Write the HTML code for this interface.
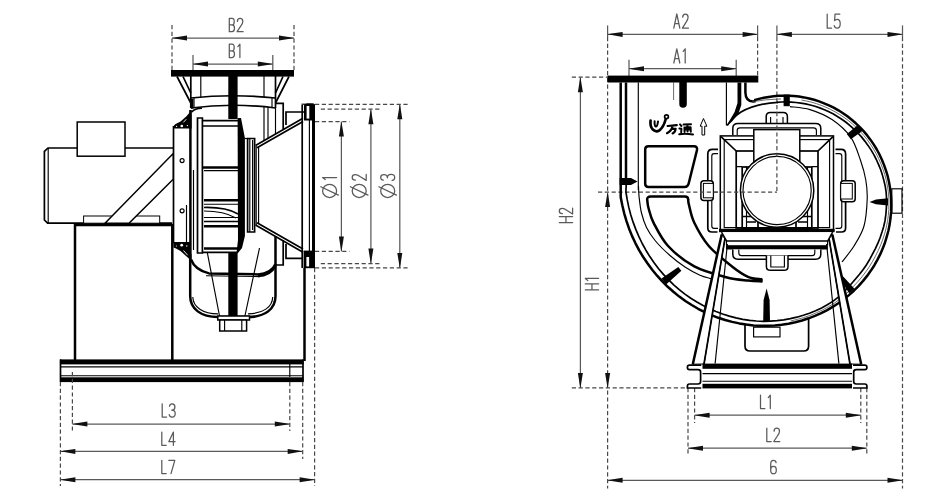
<!DOCTYPE html>
<html><head><meta charset="utf-8"><title>Fan dimension drawing</title>
<style>
html,body{margin:0;padding:0;background:#fff;}
body{width:935px;height:499px;overflow:hidden;font-family:"Liberation Sans",sans-serif;}
svg{display:block}
.t{fill:none;stroke:#000;stroke-width:1.15}
.m{fill:none;stroke:#000;stroke-width:1.7}
.k{fill:none;stroke:#000;stroke-width:2.5}
.kk{fill:none;stroke:#000;stroke-width:3}
.g{fill:none;stroke:#444;stroke-width:0.8}
.f{fill:#000;stroke:none}
.w{fill:#fff;stroke:#000;stroke-width:1.5}
.wt{fill:#fff;stroke:#000;stroke-width:1}
.wk{fill:#fff;stroke:#000;stroke-width:2.2}
.a{fill:#111;stroke:none}
.d{fill:none;stroke:#5a5a5a;stroke-width:1.25}
.ds{fill:none;stroke:#484848;stroke-width:1.2;stroke-dasharray:4.2 2.6}
.tx{fill:none;stroke:#5a5a5a;stroke-width:1.25;vector-effect:non-scaling-stroke;stroke-linecap:round;stroke-linejoin:round}
</style></head><body>
<svg width="935" height="499" viewBox="0 0 935 499">
<rect x="0" y="0" width="935" height="499" fill="#fff"/>
<line class="ds" x1="172.0" y1="25.0" x2="172.0" y2="70.0" />
<line class="ds" x1="294.0" y1="25.0" x2="294.0" y2="70.0" />
<line class="d" x1="172.0" y1="38.0" x2="294.0" y2="38.0" />
<polygon class="a" points="172.0,38.0 176.0,37.2 187.0,35.5 187.0,40.5 176.0,38.8"/>
<polygon class="a" points="294.0,38.0 290.0,37.2 279.0,35.5 279.0,40.5 290.0,38.8"/>
<g transform="translate(229.3,18.4)"><path class="tx" transform="translate(0.00,0) scale(1.000,0.950)" d="M0,0 L0,14 L2.8,14 Q5.2,14 5.2,10.4 Q5.2,6.9 2.8,6.9 L0,6.9 M2.8,6.9 Q4.9,6.9 4.9,3.4 Q4.9,0 2.8,0 L0,0"/><path class="tx" transform="translate(7.80,0) scale(1.000,0.950)" d="M0.3,3.2 Q0.3,0 3,0 Q5.7,0 5.7,3.2 Q5.7,5.2 3.6,8.2 L0,14 L6,14"/></g>
<line class="d" x1="193.0" y1="55.0" x2="193.0" y2="70.0" />
<line class="d" x1="272.8" y1="55.0" x2="272.8" y2="70.0" />
<line class="d" x1="193.0" y1="64.0" x2="272.8" y2="64.0" />
<polygon class="a" points="193.0,64.0 197.0,63.2 208.0,61.5 208.0,66.5 197.0,64.8"/>
<polygon class="a" points="272.8,64.0 268.8,63.2 257.8,61.5 257.8,66.5 268.8,64.8"/>
<g transform="translate(229.3,44.2)"><path class="tx" transform="translate(0.00,0) scale(1.000,0.950)" d="M0,0 L0,14 L2.8,14 Q5.2,14 5.2,10.4 Q5.2,6.9 2.8,6.9 L0,6.9 M2.8,6.9 Q4.9,6.9 4.9,3.4 Q4.9,0 2.8,0 L0,0"/><path class="tx" transform="translate(7.80,0) scale(1.000,0.950)" d="M0.8,2.6 L2.8,0 L2.8,14"/></g>
<rect class="f" x="171.0" y="70.0" width="123.0" height="6.6"/>
<rect class="f" x="228.3" y="76.0" width="9.3" height="43.0"/>
<line class="m" x1="190.8" y1="76.0" x2="190.8" y2="108.0" />
<line class="m" x1="275.5" y1="76.0" x2="275.5" y2="108.0" />
<line class="t" x1="200.8" y1="76.0" x2="200.8" y2="97.0" />
<line class="t" x1="264.0" y1="76.0" x2="264.0" y2="97.0" />
<path class="m" d="M177,76.5 L190.8,103 M183,76.5 L190.8,93" />
<path class="m" d="M289,76.5 L275.5,103 M283,76.5 L275.5,93" />
<path class="m" d="M190.8,98 Q233,93.5 275.5,98" />
<path class="m" d="M190.8,108 Q233,102.5 275.5,108" />
<path class="t" d="M194,98 L194,108 M272,98 L272,108" />
<path class="m" d="M202,108.2 Q194.5,108.6 191.8,112" stroke-width="2"/>
<polygon class="f" points="191.6,110.0 186.5,116.2 180.5,121.6 175.2,124.2 173.2,126.6 173.2,128.6 191.6,128.6"/>
<circle cx="181.8" cy="126" r="1.35" fill="#fff"/><path d="M186.3,119.2 L183.4,122.4" stroke="#fff" stroke-width="0.9"/><circle cx="187.4" cy="125.6" r="0.7" fill="#fff"/><circle cx="176.6" cy="126.4" r="0.6" fill="#fff"/>
<rect class="f" x="191.0" y="99.0" width="2.4" height="9.6"/>
<path class="m" d="M275.5,103.3 L283.2,103.3 L283.2,129" />
<path class="m" d="M286,125 L286,112 L304,112" />
<line class="t" x1="264.0" y1="107.0" x2="264.0" y2="141.0" />
<line class="t" x1="275.5" y1="108.0" x2="275.5" y2="134.0" />
<line class="t" x1="268.0" y1="107.0" x2="268.0" y2="139.0" />
<path class="m" d="M173.5,126 L173.5,243" stroke-width="2"/>
<line class="k" x1="190.4" y1="110.0" x2="190.4" y2="262.0" stroke-width="2.3"/>
<line class="m" x1="173.5" y1="243.0" x2="190.5" y2="243.0" />
<circle class="t" cx="182.1" cy="160.6" r="2.0"/>
<circle class="t" cx="182.1" cy="210.8" r="2.0"/>
<path class="t" d="M186.5,205 L186.5,243 M193.5,170 L193.5,250" />
<polygon class="f" points="173.5,242.0 190.5,242.0 190.5,260.0 186.0,256.0 180.5,251.0 176.0,248.6 173.5,247.6"/>
<circle cx="181.7" cy="245.2" r="1.4" fill="#fff"/><circle cx="186.8" cy="246" r="0.7" fill="#fff"/><circle cx="176.4" cy="246" r="0.6" fill="#fff"/><path d="M183.5,250.5 L187.6,255.2" stroke="#fff" stroke-width="0.9"/>
<path class="m" d="M197.5,118 L197.5,253 L202.4,253 L202.4,118 Z" />
<path class="m" d="M202.4,120.6 L238,120.6 M202.4,126 L238,126" />
<line class="k" x1="202.4" y1="167.4" x2="238.0" y2="167.4" />
<line class="t" x1="204.0" y1="170.6" x2="238.0" y2="170.6" />
<line class="k" x1="204.0" y1="200.2" x2="238.0" y2="200.2" />
<line class="t" x1="204.0" y1="204.2" x2="238.0" y2="204.2" />
<path class="m" d="M204,207.5 Q226,207 238,214" />
<path class="t" d="M204,211 Q224,211 236,218" />
<line class="t" x1="204.0" y1="217.5" x2="238.0" y2="217.5" />
<line class="m" x1="204.0" y1="221.5" x2="238.0" y2="221.5" />
<line class="k" x1="204.0" y1="226.3" x2="238.0" y2="226.3" />
<line class="k" x1="204.0" y1="248.6" x2="238.0" y2="248.6" />
<line class="m" x1="202.4" y1="252.4" x2="238.0" y2="252.4" />
<polygon class="f" points="237.6,118.0 241.0,118.0 244.9,138.0 244.9,236.0 242.0,248.0 238.0,253.0 236.5,253.0 238.0,240.0"/>
<path class="m" d="M247.6,138.5 L254.6,138.5 L254.6,232 L247.6,232 Z" />
<path class="t" d="M249.8,138.5 L249.8,232 M252.6,140 L252.6,230" />
<path class="t" d="M244.9,138.5 L247.6,138.5" />
<path class="m" d="M255.5,145.5 L303,118.3 M257,147.8 L303,121.5" />
<path class="m" d="M255.5,225 L303,252.2 M257,222.7 L303,249" />
<path class="t" d="M256.2,146 L256.2,225 M258.6,147 L258.6,224" />
<line class="m" x1="302.2" y1="105.0" x2="302.2" y2="268.0" stroke-width="1.6"/>
<line class="t" x1="309.4" y1="118.0" x2="309.4" y2="252.0" />
<line class="kk" x1="313.5" y1="104.5" x2="313.5" y2="268.0" stroke-width="2.8"/>
<path class="f" d="M304,106 Q304,103.2 307,103.2 L312.5,103.2 Q315,103.2 315,106 L315,120.5 L304,120.5 Z"/>
<rect x="306.6" y="106" width="2.7" height="12.6" fill="#fff"/>
<path class="f" d="M303.6,250.6 L315,250.6 L315,268.2 L303.6,268.2 Z"/>
<rect x="306.4" y="257" width="2.7" height="9.4" fill="#fff"/>
<line class="t" x1="301.5" y1="104.2" x2="305.0" y2="104.2" />
<path class="m" d="M275.5,265 L283.2,265 L283.2,240" />
<path class="m" d="M286,244 L286,258.3 L302,258.3" />
<path class="k" d="M190.2,254 L190.2,296 C190.2,309 201,317 218,317 L248,317 C265,317 275.5,309 275.5,296 L275.5,236" stroke-width="2.3"/>
<path class="t" d="M192.8,297 C193,307 203,313.8 218,313.8 M248,313.8 C263,313.8 272.5,307 272.7,297" />
<path class="k" d="M191,259.5 Q195,270 209,273.4 L258,274.4 Q271.5,273.5 275.5,264" stroke-width="2.2"/>
<path class="t" d="M206,275.8 L260,276.6" />
<path class="k" d="M258,276 Q270,276 275.5,266" />
<path class="t" d="M207.2,252 L219.7,317 M259.5,248 L244.7,317" />
<rect class="f" x="228.3" y="252.0" width="9.3" height="65.0"/>
<rect class="w" x="217.8" y="316.0" width="31.7" height="4.0" />
<rect class="w" x="219.7" y="320.0" width="26.9" height="11.0" />
<path class="t" d="M224.6,320 L224.6,331 M241.8,320 L241.8,331" />
<path class="k" d="M75,360 L75,225 L172.3,225 L172.3,360" stroke-width="2.8"/>
<path class="m" d="M173,148 L48,148 L44.4,151.4 L44.4,220 L47.6,223.2 L172,223.2" stroke-width="1.9"/>
<path class="t" d="M48.2,148 L48.2,223" />
<rect class="w" x="77.2" y="122.0" width="47.8" height="34.2" stroke-width="2"/>
<rect class="wt" x="83.6" y="216.0" width="76.1" height="7.2" />
<polygon class="w" points="173.2,153.6 173.2,179.3 129.0,223.2 105.0,223.2"/>
<rect class="f" x="60.0" y="359.4" width="243.5" height="5.0"/>
<rect class="f" x="60.0" y="377.3" width="243.5" height="4.8"/>
<line class="t" x1="60.0" y1="366.8" x2="303.0" y2="366.8" />
<line class="t" x1="60.0" y1="375.7" x2="303.0" y2="375.7" />
<line class="m" x1="60.5" y1="359.4" x2="60.5" y2="382.0" />
<line class="m" x1="303.0" y1="359.4" x2="303.0" y2="382.0" />
<line class="t" x1="289.8" y1="364.0" x2="289.8" y2="377.0" />
<line class="k" x1="304.5" y1="268.0" x2="304.5" y2="361.0" />
<line class="ds" x1="60.4" y1="382.0" x2="60.4" y2="486.0" />
<line class="ds" x1="72.4" y1="372.0" x2="72.4" y2="431.0" />
<line class="ds" x1="289.8" y1="382.0" x2="289.8" y2="431.0" />
<line class="ds" x1="302.7" y1="382.0" x2="302.7" y2="459.0" />
<line class="ds" x1="314.6" y1="268.0" x2="314.6" y2="486.0" />
<line class="d" x1="72.4" y1="424.0" x2="289.8" y2="424.0" />
<polygon class="a" points="72.4,424.0 76.4,423.2 87.4,421.5 87.4,426.5 76.4,424.8"/>
<polygon class="a" points="289.8,424.0 285.8,423.2 274.8,421.5 274.8,426.5 285.8,424.8"/>
<g transform="translate(162.2,403.8)"><path class="tx" transform="translate(0.00,0) scale(1.000,0.950)" d="M0,0 L0,14 L4.4,14"/><path class="tx" transform="translate(7.00,0) scale(1.000,0.950)" d="M0.3,2.6 Q0.6,0 3,0 Q5.7,0 5.7,3.3 Q5.7,6.6 2.6,6.7 Q6,6.8 6,10.3 Q6,14 3,14 Q0.4,14 0,11.4"/></g>
<line class="d" x1="60.4" y1="451.4" x2="302.7" y2="451.4" />
<polygon class="a" points="60.4,451.4 64.4,450.6 75.4,448.9 75.4,453.9 64.4,452.1"/>
<polygon class="a" points="302.7,451.4 298.7,450.6 287.7,448.9 287.7,453.9 298.7,452.1"/>
<g transform="translate(161.8,432.0)"><path class="tx" transform="translate(0.00,0) scale(1.000,0.950)" d="M0,0 L0,14 L4.4,14"/><path class="tx" transform="translate(7.00,0) scale(1.000,0.950)" d="M4.6,14 L4.6,0 L0,10.2 L6.3,10.2"/></g>
<line class="d" x1="60.4" y1="479.7" x2="314.6" y2="479.7" />
<polygon class="a" points="60.4,479.7 64.4,478.9 75.4,477.2 75.4,482.2 64.4,480.4"/>
<polygon class="a" points="314.6,479.7 310.6,478.9 299.6,477.2 299.6,482.2 310.6,480.4"/>
<g transform="translate(161.8,460.3)"><path class="tx" transform="translate(0.00,0) scale(1.000,0.950)" d="M0,0 L0,14 L4.4,14"/><path class="tx" transform="translate(7.00,0) scale(1.000,0.950)" d="M0,0 L6,0 L2.2,14"/></g>
<line class="ds" x1="315.0" y1="104.3" x2="408.0" y2="104.3" />
<line class="ds" x1="320.8" y1="109.2" x2="379.5" y2="109.2" />
<line class="ds" x1="315.0" y1="121.6" x2="349.4" y2="121.6" />
<line class="ds" x1="315.0" y1="251.4" x2="349.4" y2="251.4" />
<line class="ds" x1="320.8" y1="263.6" x2="379.5" y2="263.6" />
<line class="ds" x1="315.0" y1="267.9" x2="408.0" y2="267.9" />
<line class="d" x1="341.4" y1="121.6" x2="341.4" y2="251.4" />
<polygon class="a" points="341.4,121.6 340.6,125.6 338.9,136.6 343.9,136.6 342.1,125.6"/>
<polygon class="a" points="341.4,251.4 340.6,247.4 338.9,236.4 343.9,236.4 342.1,247.4"/>
<line class="d" x1="370.9" y1="109.2" x2="370.9" y2="263.6" />
<polygon class="a" points="370.9,109.2 370.1,113.2 368.4,124.2 373.4,124.2 371.6,113.2"/>
<polygon class="a" points="370.9,263.6 370.1,259.6 368.4,248.6 373.4,248.6 371.6,259.6"/>
<line class="d" x1="399.8" y1="104.3" x2="399.8" y2="267.9" />
<polygon class="a" points="399.8,104.3 399.1,108.3 397.3,119.3 402.3,119.3 400.6,108.3"/>
<polygon class="a" points="399.8,267.9 399.1,263.9 397.3,252.9 402.3,252.9 400.6,263.9"/>
<g transform="translate(329.6,190.9) rotate(-90)"><ellipse class="tx" cx="0" cy="0" rx="6.6" ry="7"/><line class="tx" x1="-4.2" y1="8.8" x2="4.2" y2="-8.8"/><path class="tx" transform="translate(10.5,-7) scale(1.0,1.0)" d="M0.8,2.6 L2.8,0 L2.8,14"/></g>
<g transform="translate(359.2,190.9) rotate(-90)"><ellipse class="tx" cx="0" cy="0" rx="6.6" ry="7"/><line class="tx" x1="-4.2" y1="8.8" x2="4.2" y2="-8.8"/><path class="tx" transform="translate(10.5,-7) scale(1.0,1.0)" d="M0.3,3.2 Q0.3,0 3,0 Q5.7,0 5.7,3.2 Q5.7,5.2 3.6,8.2 L0,14 L6,14"/></g>
<g transform="translate(387.7,190.9) rotate(-90)"><ellipse class="tx" cx="0" cy="0" rx="6.6" ry="7"/><line class="tx" x1="-4.2" y1="8.8" x2="4.2" y2="-8.8"/><path class="tx" transform="translate(10.5,-7) scale(1.0,1.0)" d="M0.3,2.6 Q0.6,0 3,0 Q5.7,0 5.7,3.3 Q5.7,6.6 2.6,6.7 Q6,6.8 6,10.3 Q6,14 3,14 Q0.4,14 0,11.4"/></g>
<line class="d" x1="607.6" y1="25.4" x2="607.6" y2="37.0" />
<line class="ds" x1="607.6" y1="37.0" x2="607.6" y2="488.5" />
<line class="d" x1="757.6" y1="25.4" x2="757.6" y2="37.0" />
<line class="ds" x1="757.6" y1="37.0" x2="757.6" y2="76.0" />
<line class="d" x1="607.6" y1="34.4" x2="757.6" y2="34.4" />
<polygon class="a" points="607.6,34.4 611.6,33.6 622.6,31.9 622.6,36.9 611.6,35.1"/>
<polygon class="a" points="757.6,34.4 753.6,33.6 742.6,31.9 742.6,36.9 753.6,35.1"/>
<g transform="translate(673.8,14.0)"><path class="tx" transform="translate(0.00,0) scale(1.000,1.014)" d="M0,14 L3,0 L6,14 M1,9.6 L5,9.6"/><path class="tx" transform="translate(8.60,0) scale(1.000,1.014)" d="M0.3,3.2 Q0.3,0 3,0 Q5.7,0 5.7,3.2 Q5.7,5.2 3.6,8.2 L0,14 L6,14"/></g>
<line class="d" x1="629.0" y1="59.7" x2="629.0" y2="76.0" />
<line class="d" x1="736.2" y1="59.7" x2="736.2" y2="76.0" />
<line class="d" x1="629.0" y1="68.7" x2="736.2" y2="68.7" />
<polygon class="a" points="629.0,68.7 633.0,68.0 644.0,66.2 644.0,71.2 633.0,69.5"/>
<polygon class="a" points="736.2,68.7 732.2,68.0 721.2,66.2 721.2,71.2 732.2,69.5"/>
<g transform="translate(673.8,48.8)"><path class="tx" transform="translate(0.00,0) scale(1.000,1.014)" d="M0,14 L3,0 L6,14 M1,9.6 L5,9.6"/><path class="tx" transform="translate(8.60,0) scale(1.000,1.014)" d="M0.8,2.6 L2.8,0 L2.8,14"/></g>
<line class="d" x1="776.9" y1="25.4" x2="776.9" y2="37.0" />
<line class="ds" x1="776.9" y1="37.0" x2="776.9" y2="191.8" />
<line class="d" x1="902.5" y1="25.4" x2="902.5" y2="37.0" />
<line class="ds" x1="902.5" y1="37.0" x2="902.5" y2="488.5" />
<line class="d" x1="776.9" y1="34.4" x2="902.5" y2="34.4" />
<polygon class="a" points="776.9,34.4 780.9,33.6 791.9,31.9 791.9,36.9 780.9,35.1"/>
<polygon class="a" points="902.5,34.4 898.5,33.6 887.5,31.9 887.5,36.9 898.5,35.1"/>
<g transform="translate(827.2,14.2)"><path class="tx" transform="translate(0.00,0) scale(1.000,1.000)" d="M0,0 L0,14 L4.4,14"/><path class="tx" transform="translate(7.00,0) scale(1.000,1.000)" d="M5.6,0 L0.8,0 L0.4,6.5 Q1.4,5.2 3,5.2 Q6,5.2 6,9.6 Q6,14 3,14 Q0.5,14 0,11.5"/></g>
<line class="ds" x1="571.8" y1="77.2" x2="607.6" y2="77.2" />
<line class="ds" x1="571.8" y1="387.9" x2="687.5" y2="387.9" />
<line class="d" x1="580.4" y1="77.2" x2="580.4" y2="387.9" />
<polygon class="a" points="580.4,77.2 579.6,81.2 577.9,92.2 582.9,92.2 581.1,81.2"/>
<polygon class="a" points="580.4,387.9 579.6,383.9 577.9,372.9 582.9,372.9 581.1,383.9"/>
<polygon class="a" points="607.6,192.0 606.9,196.0 605.1,207.0 610.1,207.0 608.4,196.0"/>
<polygon class="a" points="607.6,387.9 606.9,383.9 605.1,372.9 610.1,372.9 608.4,383.9"/>
<line class="ds" x1="598.0" y1="192.2" x2="777.0" y2="192.2" />
<g transform="translate(559.3,222.6) rotate(-90)"><path class="tx" transform="translate(0.00,0) scale(1.000,0.950)" d="M0,0 L0,14 M6,0 L6,14 M0,7 L6,7"/><path class="tx" transform="translate(8.60,0) scale(1.000,0.950)" d="M0.3,3.2 Q0.3,0 3,0 Q5.7,0 5.7,3.2 Q5.7,5.2 3.6,8.2 L0,14 L6,14"/></g>
<g transform="translate(585.3,289.9) rotate(-90)"><path class="tx" transform="translate(0.00,0) scale(1.000,0.950)" d="M0,0 L0,14 M6,0 L6,14 M0,7 L6,7"/><path class="tx" transform="translate(8.60,0) scale(1.000,0.950)" d="M0.8,2.6 L2.8,0 L2.8,14"/></g>
<line class="ds" x1="694.6" y1="388.0" x2="694.6" y2="423.0" />
<line class="ds" x1="860.8" y1="388.0" x2="860.8" y2="423.0" />
<line class="ds" x1="688.0" y1="388.0" x2="688.0" y2="456.0" />
<line class="ds" x1="866.8" y1="388.0" x2="866.8" y2="456.0" />
<line class="d" x1="694.6" y1="415.2" x2="860.8" y2="415.2" />
<polygon class="a" points="694.6,415.2 698.6,414.4 709.6,412.7 709.6,417.7 698.6,415.9"/>
<polygon class="a" points="860.8,415.2 856.8,414.4 845.8,412.7 845.8,417.7 856.8,415.9"/>
<g transform="translate(760.5,395.2)"><path class="tx" transform="translate(0.00,0) scale(1.000,0.950)" d="M0,0 L0,14 L4.4,14"/><path class="tx" transform="translate(7.00,0) scale(1.000,0.950)" d="M0.8,2.6 L2.8,0 L2.8,14"/></g>
<line class="d" x1="688.0" y1="448.2" x2="866.8" y2="448.2" />
<polygon class="a" points="688.0,448.2 692.0,447.4 703.0,445.7 703.0,450.7 692.0,448.9"/>
<polygon class="a" points="866.8,448.2 862.8,447.4 851.8,445.7 851.8,450.7 862.8,448.9"/>
<g transform="translate(766.8,428.2)"><path class="tx" transform="translate(0.00,0) scale(1.000,0.950)" d="M0,0 L0,14 L4.4,14"/><path class="tx" transform="translate(7.00,0) scale(1.000,0.950)" d="M0.3,3.2 Q0.3,0 3,0 Q5.7,0 5.7,3.2 Q5.7,5.2 3.6,8.2 L0,14 L6,14"/></g>
<line class="d" x1="607.6" y1="480.3" x2="902.5" y2="480.3" />
<polygon class="a" points="607.6,480.3 611.6,479.6 622.6,477.8 622.6,482.8 611.6,481.1"/>
<polygon class="a" points="902.5,480.3 898.5,479.6 887.5,477.8 887.5,482.8 898.5,481.1"/>
<g transform="translate(770.5,460.4)"><path class="tx" transform="translate(0.00,0) scale(1.000,0.950)" d="M5.6,2.4 Q5.2,0 3,0 Q0.2,0 0.2,4 L0.2,10 Q0.2,14 3,14 Q5.8,14 5.8,10 Q5.8,6.4 3,6.4 Q0.2,6.4 0.2,9.6"/></g>
<path class="m" d="M745,324 L745,346 Q745,351 750,351 L803.6,351 Q808.6,351 808.6,346 L808.6,319" />
<rect class="t" x="753.6" y="327.2" width="26.4" height="9.7" />
<path class="k" d="M754.2,100.2 L758.9,98.9 L763.8,97.8 L768.7,96.9 L773.7,96.3 L778.7,95.8 L783.7,95.7 L788.8,95.7 L793.9,96.0 L799.0,96.6 L804.1,97.4 L809.1,98.5 L814.2,99.8 L819.1,101.4 L824.1,103.3 L828.9,105.4 L833.7,107.7 L838.4,110.3 L843.0,113.2 L847.4,116.3 L851.7,119.7 L855.8,123.3 L859.8,127.1 L863.6,131.1 L867.2,135.4 L870.6,139.9 L873.8,144.6 L876.8,149.5 L879.5,154.5 L881.9,159.7 L884.1,165.1 L886.0,170.6 L887.7,176.2 L889.0,182.0 L890.0,187.9 L890.8,193.8 L891.2,199.8 L891.3,205.8 L891.1,211.9 L890.5,218.0 L889.7,224.1 L888.5,230.2 L886.9,236.2 L885.1,242.2 L882.9,248.1 L880.4,253.9 L877.5,259.6 L874.4,265.2 L870.9,270.6 L867.1,275.9 L863.1,280.9 L858.7,285.8 L854.1,290.5 L849.2,294.9 L844.1,299.1 L838.7,303.0 L833.0,306.7 L827.2,310.1 L821.2,313.1 L814.9,315.9 L808.6,318.3 L802.0,320.5 L795.3,322.2 L788.5,323.7 L781.6,324.7 L774.7,325.4 L767.6,325.8 L760.6,325.8 L753.4,325.4 L746.3,324.6 L739.3,323.4 L732.2,321.9 L725.2,320.0 L718.3,317.8 L711.4,315.1 L704.7,312.1 L698.1,308.8 L691.7,305.0 L685.4,301.0 L679.3,296.6 L673.4,291.8 L667.7,286.8 L662.3,281.4 L657.1,275.7 L652.2,269.8 L647.6,263.5 L643.2,257.0 L639.2,250.3 L635.5,243.3 L632.1,236.1 L629.1,228.7 L626.5,221.1 L624.2,213.3 L622.3,205.3 L620.7,197.3 L620.7,82.5" stroke-width="2.9" stroke-linejoin="round"/>
<path class="m" d="M777.0,102.4 L781.7,102.0 L786.4,101.9 L791.2,102.1 L796.0,102.5 L800.8,103.1 L805.6,103.9 L810.3,105.0 L815.0,106.3 L819.7,107.9 L824.4,109.7 L828.9,111.8 L833.4,114.1 L837.8,116.7 L842.1,119.5 L846.3,122.5 L850.3,125.8 L854.2,129.3 L857.9,133.0 L861.5,136.9 L864.8,141.1 L868.0,145.4 L871.0,149.9 L873.8,154.6 L876.3,159.5 L878.6,164.6 L880.7,169.8 L882.4,175.1 L883.9,180.6 L885.2,186.1 L886.1,191.8 L886.5,197.5 L886.6,203.3 L886.3,209.1 L885.8,214.9 L885.0,220.7 L883.7,226.5 L882.0,232.1 L880.1,237.7 L877.9,243.2 L875.4,248.6 L872.6,253.9 L869.8,259.2 L866.7,264.4 L863.2,269.4 L859.5,274.3 L855.5,279.0 L851.4,283.7 L847.2,288.4 L842.7,293.0 L838.0,297.4 L832.8,301.4 L827.3,304.8 L821.6,307.9 L815.6,310.7 L809.5,313.2 L803.3,315.3 L796.9,317.2 L790.3,318.7 L783.7,319.9 L777.0,320.7 L770.2,321.2 L763.4,321.3 L756.5,321.0 L749.7,320.3 L742.8,319.3 L736.0,317.9 L729.3,316.1 L722.6,314.0 L716.0,311.5 L709.5,308.7 L703.1,305.5 L696.9,302.0 L690.8,298.2 L684.9,294.1 L679.2,289.6 L673.7,284.8 L668.4,279.7 L663.4,274.4 L658.6,268.7 L654.1,262.8 L649.8,256.6 L645.9,250.2 L642.2,243.5 L638.9,236.7 L635.9,229.6 L633.2,222.4 L630.8,215.0 L628.8,207.4 L627.2,199.7 L625.9,191.8 L626.2,185" stroke-width="2.3" stroke-linejoin="round"/>
<path class="g" d="M801.6,100.1 L806.5,101.0 L811.4,102.2 L816.3,103.6 L821.1,105.3 L825.8,107.2 L830.5,109.4 L835.1,111.8 L839.6,114.5 L844.0,117.4 L848.3,120.5 L852.4,123.9 L856.4,127.5 L860.1,131.4 L863.8,135.5 L867.2,139.7 L870.4,144.2 L873.4,148.9 L876.2,153.7 L878.7,158.7 L881.0,163.9 L883.0,169.3 L884.8,174.7 L886.3,180.3 L887.4,186.0 L888.3,191.8 L888.8,197.7 L888.9,203.6 L888.8,209.5 L888.3,215.5 L887.5,221.4 L886.3,227.3 L884.8,233.2 L882.9,239.0 L880.8,244.7 L878.3,250.3 L875.6,255.8 L872.6,261.3 L869.4,266.6 L865.8,271.8 L862.0,276.8 L857.9,281.6 L853.5,286.3 L849.0,291.0 L844.3,295.4 L839.2,299.6 L833.9,303.5 L828.2,306.9 L822.4,310.0 L816.3,312.8 L810.1,315.4 L803.7,317.6 L797.2,319.4 L790.6,321.0" />
<path class="t" d="M638.5,186.0 C638.6,187.7 638.5,191.5 639.0,196.0 C639.5,200.5 640.2,207.8 641.5,213.0 C642.8,218.2 644.2,222.8 646.5,227.5 C648.8,232.2 651.6,236.3 655.5,241.0 C659.4,245.7 665.1,251.2 670.0,255.5 C674.9,259.8 680.0,263.7 685.0,267.0 C690.0,270.3 695.7,273.3 700.0,275.2 C704.3,277.1 709.2,278.0 711.0,278.6" stroke-width="1.3"/>
<path class="k" d="M745.4,82.5 L745.4,92.5 Q745.6,101.2 753,101.5 L755.5,101.2" stroke-width="2.9"/>
<polygon class="f" points="737.5,82.5 741.3,82.5 741.3,105.0 738.5,113.5 732.0,121.5 727.0,125.8 729.6,120.5 734.6,112.0 737.5,103.0"/>
<path class="m" d="M727.2,125.5 Q732,118 741,112 Q756,103.5 778,102.3" stroke-width="2.3"/>
<path class="g" d="M752,101.8 Q765,99.3 781,98.9" />
<line class="k" x1="626.0" y1="82.5" x2="626.0" y2="181.0" stroke-width="3.6"/>
<line class="t" x1="638.3" y1="82.5" x2="638.3" y2="190.0" />
<line class="t" x1="726.4" y1="82.5" x2="726.4" y2="125.5" />
<line class="g" x1="673.6" y1="82.5" x2="673.6" y2="100.0" />
<rect class="f" x="607.5" y="75.6" width="150.8" height="6.9"/>
<path class="f" d="M679.3,82 L686.8,82 L686.8,104 Q686.8,107.8 683,107.8 Q679.3,107.8 679.3,104 Z"/>
<polygon class="f" points="619.6,178.0 631.0,178.0 637.6,181.6 631.0,184.9 619.6,184.9"/>
<rect class="f" x="783.6" y="94.6" width="6.2" height="11.6"/>
<polygon class="f" points="858.2,124.8 862.7,130.7 850.8,139.3 846.8,134.1"/>
<polygon class="f" points="888.0,198.3 876.0,199.6 869.5,202.0 876.0,204.3 888.0,205.6"/>
<polygon class="f" points="854.7,289.1 849.1,293.3 837.8,275.0 840.2,273.2"/>
<polygon class="f" points="763.2,321.5 763.6,300.0 766.6,288.5 769.6,300.0 770.0,321.5"/>
<polygon class="f" points="666.1,284.5 661.5,278.6 678.3,266.9 681.4,270.8"/>
<rect class="t" x="891.8" y="188.8" width="10.2" height="24.4" />
<path class="t" d="M790.0,106.6 C793.3,107.1 803.0,107.4 810.0,109.6 C817.0,111.8 825.2,115.0 832.0,119.6 C838.8,124.2 846.0,130.5 850.7,137.2 C855.4,143.9 857.9,152.9 860.4,160.0 C862.9,167.1 864.7,173.5 865.8,180.0 C866.9,186.5 867.5,191.3 867.2,199.0 C866.9,206.7 866.2,218.2 864.0,226.0 C861.8,233.8 857.7,240.0 854.0,246.0 C850.3,252.0 844.0,259.3 842.0,262.0" />
<path class="k" d="M648.5,146.3 L694,146.3 Q697.6,146.3 697,150 Q693,166 688.8,183 Q688,187 684.5,187 L648.5,187 Q645.2,187 645.2,183.8 L645.2,149.5 Q645.2,146.3 648.5,146.3 Z" stroke-width="2.9"/>
<path class="k" d="M647.2,199.5 C647.4,200.9 647.4,204.1 648.5,208.0 C649.6,211.9 650.3,216.5 653.6,222.8 C656.9,229.1 661.3,238.7 668.1,246.0 C674.9,253.3 684.6,261.2 694.3,266.4 C704.0,271.6 717.2,274.8 726.2,277.2 C735.2,279.6 742.1,279.9 748.0,280.6 C753.9,281.3 759.2,281.3 761.5,281.4 L761.5,279.3 C759.2,278.9 752.9,279.0 748.0,276.8 C743.1,274.6 738.5,271.5 732.0,266.4 C725.5,261.3 715.1,253.3 708.8,246.0 C702.5,238.7 697.6,229.6 694.3,222.8 C691.0,216.0 690.0,208.9 689.0,205.0 C688.0,201.1 688.3,200.4 688.2,199.5 Q688,196.6 685,196.6 L650.5,196.6 Q647,196.6 647.2,199.5 Z" stroke-linejoin="round" stroke-width="2.9"/>
<g fill="none" stroke="#000" stroke-linecap="round" stroke-linejoin="round"><path stroke-width="2.7" d="M650.6,120.5 Q649.8,126.5 652.8,129.6 Q656,132.6 659.4,130.4 Q663.6,127 665.6,119.5"/><path stroke-width="2" d="M654.6,121.2 Q654.4,126 655.9,126.6 Q657.4,126.6 658,121.4"/><circle cx="666.5" cy="116.8" r="1.9" stroke-width="1.7"/><path stroke-width="2.2" d="M667.6,126 L676.8,125.2 M672.6,126 Q671.6,131 667,133.2 M672,128.6 L675.6,128.8 Q675.4,132.2 672.6,133.4"/><path stroke-width="2" d="M680,124.4 L681.4,126 M679.4,128.6 L681.4,128.8 L681.2,132.2 M679.2,134.2 Q685,133.2 693,134.4 M683.6,124.6 L691,124.2 M684.4,127.4 L690.6,127.2 L690.8,131.8 M684.4,127.4 L684.6,132 M684.6,129.6 L690.6,129.4 M687.4,125 L687.6,131.6"/><path stroke-width="1" d="M703.3,118.9 L700.2,126.2 L702,126.2 L702,135 L704.7,135 L704.7,126.2 L706.5,126.2 Z"/></g>
<path class="m" d="M717.5,232 L712,232 Q707.8,232 707.8,228 L707.8,154 Q707.8,149.4 712.5,149.4 L718,149.4" />
<path class="t" d="M718,153.6 L714,153.6 Q711.8,153.6 711.8,156 L711.8,226 Q711.8,228.4 714,228.4 L718,228.4" />
<path class="m" d="M836,232 L841.5,232 Q845.6,232 845.6,228 L845.6,154 Q845.6,149.4 841,149.4 L835.5,149.4" />
<path class="t" d="M835.5,153.6 L839.5,153.6 Q841.8,153.6 841.8,156 L841.8,226 Q841.8,228.4 839.5,228.4 L835.5,228.4" />
<rect class="w" x="700.9" y="180.8" width="12.4" height="19.6" rx="3"/>
<rect class="wt" x="703.4" y="183.4" width="9.9" height="14.4" />
<rect class="w" x="840.7" y="180.8" width="14.5" height="20.9" rx="3"/>
<rect class="wt" x="840.7" y="183.4" width="11.6" height="15.6" />
<path class="w" d="M766.2,124 L766.2,116.5 Q766.2,112.4 770.3,112.4 L783.2,112.4 Q787.4,112.4 787.4,116.5 L787.4,124" />
<path class="t" d="M770.6,124 L770.6,117 M783,124 L783,117" />
<path class="w" d="M732.8,135 L732.8,128.4 Q732.8,123.6 738,123.6 L815.6,123.6 Q820.8,123.6 820.8,128.4 L820.8,135" />
<path class="t" d="M737.2,135 L737.2,130.6 Q737.2,127.9 740,127.9 L813.6,127.9 Q816.4,127.9 816.4,130.6 L816.4,135" />
<rect class="w" x="720.3" y="135.9" width="113.2" height="94.7" stroke-width="2.6"/>
<rect class="t" x="724.2" y="139.6" width="105.4" height="88.0" />
<rect class="m" x="736.2" y="151.0" width="81.8" height="77.0" stroke-width="1.8"/>
<path class="m" d="M721,136.6 L736.2,151 M833,136.6 L818,151" />
<rect class="m" x="742.2" y="167.0" width="69.6" height="62.0" stroke-width="3"/>
<path class="t" d="M736.2,166.6 L742,166.6 M812,166.6 L818,166.6 M746.5,166.6 L746.5,228 M807.5,166.6 L807.5,228" />
<path class="m" d="M742,216.5 L758,216.5 L758,228 M812,216.5 L796,216.5 L796,228 M747,222 L756,222 M798,222 L807,222" />
<rect class="w" x="753.8" y="129.6" width="46.0" height="50.0" />
<circle class="w" cx="777.1" cy="190.5" r="36.7"/>
<circle class="t" cx="777.1" cy="190.5" r="34.1"/>
<line class="ds" x1="776.9" y1="112.0" x2="776.9" y2="192.2" />
<line class="ds" x1="700.0" y1="192.2" x2="777.0" y2="192.2" />
<rect class="f" x="719.0" y="228.8" width="115.6" height="3.4"/>
<path class="w" d="M721.5,232.2 L726.5,240.9 L827.8,240.9 L832.6,232.2" stroke-width="1.2"/>
<rect class="f" x="726.0" y="245.2" width="101.8" height="4.3"/>
<path class="t" d="M726.5,240.9 L726.5,245.2 M827.6,240.9 L827.6,245.2" />
<path class="w" d="M732.8,249.5 L732.8,254 Q732.8,259.2 738,259.2 L815.6,259.2 Q820.8,259.2 820.8,254 L820.8,249.5" stroke-width="1.4"/>
<path class="t" d="M738.8,249.5 L738.8,253 Q738.8,255.6 741.4,255.6 L812.2,255.6 Q814.8,255.6 814.8,253 L814.8,249.5" />
<path class="w" d="M766.4,255.6 L766.4,266.4 Q766.4,270.3 770.4,270.3 L784,270.3 Q788,270.3 788,266.4 L788,255.6" />
<path class="t" d="M770.8,255.6 L770.8,267 L784.4,267 L784.4,255.6" />
<polygon class="wt" points="721.7,234.4 724.9,239.0 704.0,364.0 692.8,364.2"/>
<path class="k" d="M721.7,234.4 L692.8,364.2" stroke-width="2.6"/>
<path class="m" d="M724.9,239 L704,364" />
<path class="t" d="M727.4,244 L715.1,363.6" />
<polygon class="wt" points="832.3,234.4 829.1,239.0 850.0,364.0 861.2,364.2"/>
<path class="k" d="M832.3,234.4 L861.2,364.2" stroke-width="2.6"/>
<path class="m" d="M829.1,239 L850,364" />
<path class="t" d="M826.6,244 L838.9,363.6" />
<rect class="f" x="702.5" y="363.6" width="149.5" height="5.2"/>
<rect class="f" x="702.5" y="383.8" width="149.5" height="4.6"/>
<line class="t" x1="702.5" y1="373.6" x2="852.0" y2="373.6" />
<line class="t" x1="702.5" y1="381.2" x2="852.0" y2="381.2" />
<path class="m" d="M701.2,365.2 L689.5,365.2 Q687.4,365.2 687.4,367.4 Q687.4,369.6 689.5,369.6 L698,369.6 Q700.6,369.6 700.6,372 L700.6,381.6 Q700.6,384 698,384 L689.5,384 Q687.4,384 687.4,386.2 L687.4,388 L701.2,388" />
<path class="m" d="M853,365.2 L864.8,365.2 Q866.9,365.2 866.9,367.4 Q866.9,369.6 864.8,369.6 L856.3,369.6 Q853.7,369.6 853.7,372 L853.7,381.6 Q853.7,384 856.3,384 L864.8,384 Q866.9,384 866.9,386.2 L866.9,388 L853,388" />
</svg>
</body></html>
